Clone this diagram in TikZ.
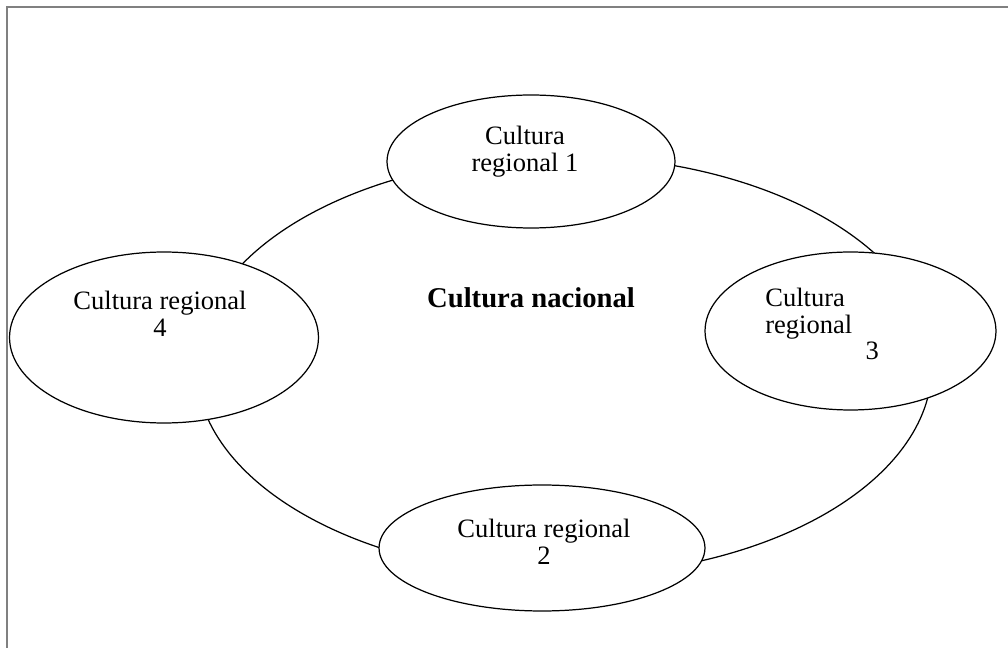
\documentclass[tikz,border=0pt]{standalone}
\usepackage{fontspec}
\setmainfont{Liberation Serif}
\usetikzlibrary{shapes.geometric}

\begin{document}
\begin{tikzpicture}[x=0.02cm, y=-0.02cm,
  region/.style={draw, ellipse, fill=white, line width=0.7pt, inner sep=0pt},
  nat/.style={draw, ellipse, line width=0.7pt, inner sep=0pt,
              minimum width=14.72cm, minimum height=8.4cm},
  txt/.style={align=center, inner sep=0pt,
              font=\fontsize{15.1}{15.3}\selectfont},
  title/.style={inner sep=0pt, font=\fontsize{16.3}{17}\selectfont\bfseries},
  frame/.style={draw=gray, line width=1.2pt}]

  \useasboundingbox (0,0) rectangle (1008,648);

  % page frame (left and top only)
  \coordinate (fbl) at (7,648);
  \coordinate (ftl) at (7,7);
  \coordinate (ftr) at (1008,7);
  \draw[frame] (fbl) -- (ftl) -- (ftr);

  \node[nat] (nac) at (564,366) {};

  \node[region, minimum width=5.76cm, minimum height=2.66cm] (reg1) at (531,161.5) {};
  \node[region, minimum width=5.82cm, minimum height=3.16cm] (reg3) at (850.5,331) {};
  \node[region, minimum width=6.18cm, minimum height=3.42cm] (reg4) at (164,337.5) {};
  \node[region, minimum width=6.52cm, minimum height=2.52cm] (reg2) at (542,548) {};

  \node[title] (tnac) at (531,298) {Cultura nacional};
  \node[txt] (t1) at (525,152) {Cultura\\regional 1};
  \node[txt, align=left, anchor=west] (t3) at (765,324)
       {Cultura\\regional\\\hspace*{57pt}3};
  \node[txt] (t4) at (160,314) {Cultura regional\\4};
  \node[txt] (t2) at (544,542) {Cultura regional\\2};

\end{tikzpicture}
\end{document}
